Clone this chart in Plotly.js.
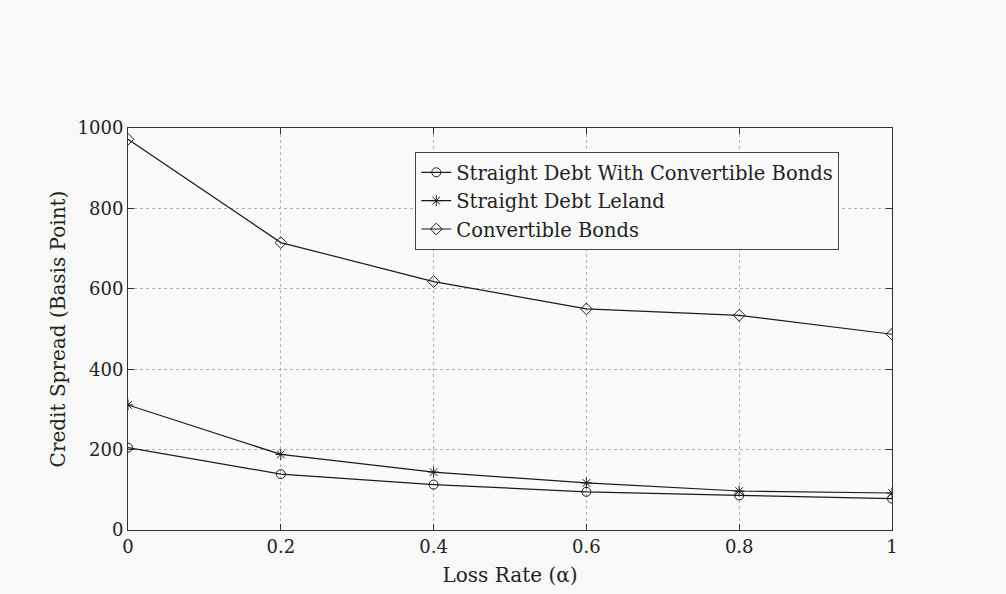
<!DOCTYPE html>
<html>
<head>
<meta charset="utf-8">
<script src="https://cdn.plot.ly/plotly-3.0.1.min.js"></script>
<style>html,body{margin:0;padding:0;background:#f8f8f8;}</style>
</head>
<body>
<div id="chart" style="width:1006px;height:594px;"></div>
<script>
const lossRate = [0, 0.2, 0.4, 0.6, 0.8, 1];
const straightDebtWithCB = [205, 139, 113, 95, 86, 78];
const straightDebtLeland = [311, 188, 144, 117, 97, 92];
const convertibleBonds = [972, 715, 618, 550, 534, 487];
const seriesNames = ["Straight Debt With Convertible Bonds", "Straight Debt Leland", "Convertible Bonds"];
const xTicks = [0, 0.2, 0.4, 0.6, 0.8, 1];
const xTickText = ["0", "0.2", "0.4", "0.6", "0.8", "1"];
const yTicks = [0, 200, 400, 600, 800, 1000];

const fam = "DejaVu Serif, Liberation Serif, serif";
const tickFont = {family: fam, color: "#222", size: 18};
const titleFont = {family: fam, color: "#222", size: 20};
function tr(y, name, sym, sz) {
  return {x: lossRate, y: y, name: name, type: "scatter", mode: "lines+markers",
    line: {color: "#1a1a1a", width: 1.2},
    marker: {symbol: sym, size: sz, color: "#1a1a1a", line: {color: "#1a1a1a", width: 1}}};
}
const data = [
  tr(straightDebtWithCB, seriesNames[0], "circle-open", 9),
  tr(straightDebtLeland, seriesNames[1], "asterisk-open", 9),
  tr(convertibleBonds, seriesNames[2], "diamond-open", 9)
];
const axisCommon = {showline: true, linecolor: "#333", linewidth: 1, mirror: "ticks",
  ticks: "inside", ticklen: 6, tickcolor: "#333", zeroline: false,
  showgrid: true, gridcolor: "#b0b0b0", griddash: "dot", gridwidth: 1, tickfont: tickFont};
const layout = {
  width: 1006, height: 594,
  paper_bgcolor: "#f8f8f8", plot_bgcolor: "#fafafa",
  margin: {l: 128, r: 114, t: 128, b: 64},
  font: tickFont,
  showlegend: true,
  legend: {x: 0.376, y: 0.94, xanchor: "left", yanchor: "top",
    bgcolor: "#fafafa", bordercolor: "#444", borderwidth: 1,
    font: {family: fam, size: 19.5, color: "#222"}, tracegroupgap: 0, itemwidth: 30},
  xaxis: Object.assign({}, axisCommon, {range: [0, 1], tickvals: xTicks, ticktext: xTickText,
    title: {text: "Loss Rate (α)", font: titleFont, standoff: 12}}),
  yaxis: Object.assign({}, axisCommon, {range: [0, 1000], tickvals: yTicks,
    title: {text: "Credit Spread (Basis Point)", font: titleFont, standoff: 6}})
};
Plotly.newPlot("chart", data, layout, {displayModeBar: false, staticPlot: true});
</script>
</body>
</html>
